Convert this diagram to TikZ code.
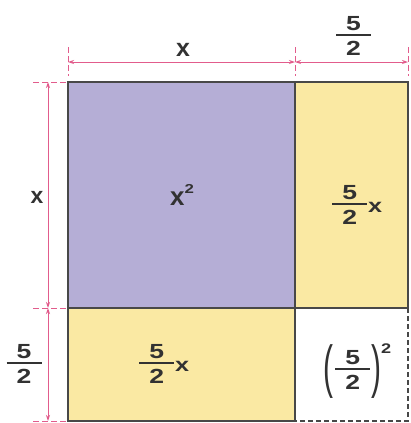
\documentclass[tikz,border=0pt]{standalone}
\usepackage{graphicx}
\usepackage{fontspec}
\setmainfont{Liberation Sans}
\newfontfamily\lblfont{Liberation Sans}
\newfontfamily\widefont[FakeStretch=1.3]{Liberation Sans}
\usetikzlibrary{arrows.meta}
\definecolor{lav}{RGB}{181,174,214}
\definecolor{yel}{RGB}{250,233,163}
\definecolor{edgec}{RGB}{72,72,72}
\definecolor{dimc}{RGB}{226,92,140}
\definecolor{ink}{RGB}{50,50,50}
\newcommand\dig[1]{\hbox to 35bp{\hss\widefont\bfseries\fontsize{20.5}{20.5}\selectfont #1\hss}}
\newcommand\fr[2]{\hbox{\rlap{\raisebox{4.5bp}{\dig{#1}}}\rlap{\rule[-0.9bp]{35bp}{1.8bp}}\raisebox{-20.5bp}{\dig{#2}}}}
\newcommand\wx{\raisebox{-8bp}{\widefont\bfseries\fontsize{19.5}{19.5}\selectfont x}}
\newcommand\px[1]{\raisebox{-17bp}{\scalebox{1.5}[2.9]{\lblfont\mdseries\fontsize{20}{20}\selectfont #1}}}
\tikzset{
  boxline/.style={draw=edgec, line width=1.8bp},
  dashbox/.style={draw=edgec, line width=1.8bp, dash pattern=on 5bp off 3bp},
  dimline/.style={draw=dimc, line width=0.9bp, {Stealth[length=6bp,width=4bp]}-{Stealth[length=6bp,width=4bp]}},
  extline/.style={draw=dimc, line width=0.8bp, dash pattern=on 6bp off 3bp},
  lbl/.style={text=ink, font=\lblfont\bfseries\fontsize{20}{24}\selectfont, inner sep=0pt}
}
\begin{document}
\begin{tikzpicture}[x=1bp,y=-1bp]
\useasboundingbox (0,0) rectangle (411,423);
\fill[white] (0,0) rectangle (411,423);
% square corners
\coordinate (A) at (68,82);
\coordinate (B) at (295,82);
\coordinate (C) at (408,82);
\coordinate (D) at (68,308);
\coordinate (E) at (295,308);
\coordinate (F) at (408,308);
\coordinate (G) at (68,421);
\coordinate (H) at (295,421);
\coordinate (I) at (408,421);
% fills
\fill[lav] (A) rectangle (E);
\fill[yel] (B) rectangle (F);
\fill[yel] (D) rectangle (H);
% borders
\draw[boxline] (A) rectangle (E);
\draw[boxline] (B) rectangle (F);
\draw[boxline] (D) rectangle (H);
\draw[dashbox] (F) -- (I) -- (H);
% top dimension
\coordinate (t1) at (68,62);
\coordinate (t2) at (295,62);
\coordinate (t3) at (408,62);
\coordinate (t1a) at (68,47);  \coordinate (t1b) at (68,76);
\coordinate (t2a) at (295,47); \coordinate (t2b) at (295,76);
\coordinate (t3a) at (408,47); \coordinate (t3b) at (408,76);
\draw[extline] (t1a) -- (t1b);
\draw[extline] (t2a) -- (t2b);
\draw[extline] (t3a) -- (t3b);
\draw[dimline] (t1) -- (t2);
\draw[dimline] (t2) -- (t3);
% left dimension
\coordinate (l1) at (48,82);
\coordinate (l2) at (48,308);
\coordinate (l3) at (48,421);
\coordinate (l1a) at (33,82);  \coordinate (l1b) at (66,82);
\coordinate (l2a) at (33,308); \coordinate (l2b) at (66,308);
\coordinate (l3a) at (33,421); \coordinate (l3b) at (66,421);
\draw[extline] (l1a) -- (l1b);
\draw[extline] (l2a) -- (l2b);
\draw[extline] (l3a) -- (l3b);
\draw[dimline] (l1) -- (l2);
\draw[dimline] (l2) -- (l3);
% labels
\node[lbl, font=\lblfont\bfseries\fontsize{25}{25}\selectfont] (topx) at (183,50) {x};
\node[lbl, anchor=base] (topf) at (353.5,35) {\fr52};
\node[lbl, font=\lblfont\bfseries\fontsize{23}{23}\selectfont] (leftx) at (37,197) {x};
\node[lbl, anchor=base] (leftf) at (24,363) {\fr52};
\node[lbl, anchor=base west] (xsq) at (170,205) {{\fontsize{26}{26}\selectfont x}\raisebox{12bp}{\widefont\bfseries\fontsize{13}{13}\selectfont 2}};
\node[lbl, anchor=base west] (rfx) at (332,204) {\fr52\kern1bp\wx};
\node[lbl, anchor=base west] (bfx) at (139,363) {\fr52\kern1bp\wx};
\node[lbl, anchor=base west] (fsq) at (323,369) {\px(\kern2bp\fr52\kern1bp\px)\raisebox{16bp}{\widefont\bfseries\fontsize{14}{14}\selectfont 2}};
\end{tikzpicture}
\end{document}
